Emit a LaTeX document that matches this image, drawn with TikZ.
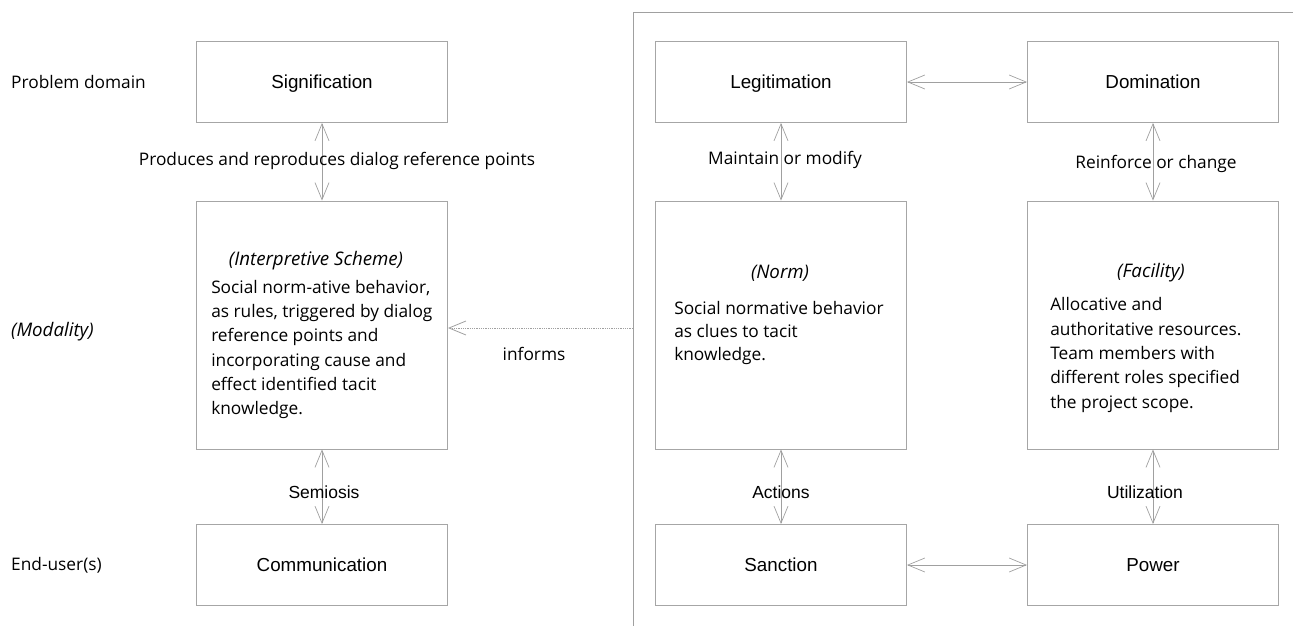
\documentclass[tikz,border=0pt]{standalone}
\usepackage{fontspec}
\setmainfont{Open Sans}
\newfontfamily\arialfont{Liberation Sans}
\usetikzlibrary{arrows.meta, positioning}
\definecolor{BoxGray}{HTML}{A6A6A6}
\definecolor{LineGray}{HTML}{A0A0A0}

\begin{document}
\begin{tikzpicture}[x=1pt, y=-1pt,
    box/.style={draw=BoxGray, line width=0.9pt, minimum width=251pt, minimum height=81pt, inner sep=0pt, text height=13.5pt, text depth=0pt, font=\arialfont\fontsize{18.8}{22}\selectfont},
    tallbox/.style={box, minimum height=248pt},
    link/.style={draw=LineGray, line width=0.7pt, {Straight Barb[length=17pt,width=14pt]}-{Straight Barb[length=17pt,width=14pt]}},
    lbl/.style={font=\fontsize{17.3}{20}\selectfont, inner sep=1pt},
    albl/.style={font=\arialfont\fontsize{17.5}{20}\selectfont, inner sep=1pt},
    side/.style={lbl, anchor=west},
    head/.style={font=\itshape\fontsize{18.7}{22}\selectfont, inner sep=0pt},
    body/.style={font=\fontsize{17.3}{24.3}\selectfont, align=left, anchor=north west, inner sep=0pt}
]
\useasboundingbox (0,0) rectangle (1293,626);

% --- divider ---
\coordinate (divtop) at (633,12);
\coordinate (divbot) at (633,626);
\coordinate (divright) at (1293,12);
\draw[LineGray, line width=0.8pt] (divbot) -- (divtop) -- (divright);

% --- row labels ---
\node[side] (rowtop) at (10,82) {Problem domain};
\node[side, font=\itshape\fontsize{18.7}{22}\selectfont] (rowmid) at (10,332) {(Modality)};
\node[side] (rowbot) at (10,565) {End-user(s)};

% --- left column ---
\node[box] (sig) at (322,82) {Signification};
\node[tallbox] (interp) at (322,325) {};
\node[box] (comm) at (322,565) {Communication};
\node[head] at (316,261) {(Interpretive Scheme)};
\node[body] at ([xshift=15pt, yshift=-79.5pt]interp.north west) {Social norm-ative behavior,\\as rules, triggered by dialog\\reference points and\\incorporating cause and\\effect identified tacit\\knowledge.};

% --- middle column ---
\node[box] (legit) at (781,82) {Legitimation};
\node[tallbox] (norm) at (781,325) {};
\node[box] (sanc) at (781,565) {Sanction};
\node[head] at (780,273) {(Norm)};
\node[body, font=\fontsize{17.3}{23}\selectfont] at ([xshift=19pt, yshift=-100.5pt]norm.north west) {Social normative behavior\\as clues to tacit\\knowledge.};

% --- right column ---
\node[box] (dom) at (1153,82) {Domination};
\node[tallbox] (fac) at (1153,325) {};
\node[box] (pow) at (1153,565) {Power};
\node[head] at (1151,273) {(Facility)};
\node[body] at ([xshift=23pt, yshift=-97pt]fac.north west) {Allocative and\\authoritative resources.\\Team members with\\different roles specified\\the project scope.};

% --- connectors ---
\draw[link] (sig) -- (interp);
\draw[link] (interp) -- (comm);
\draw[link] (legit) -- (norm);
\draw[link] (norm) -- (sanc);
\draw[link] (dom) -- (fac);
\draw[link] (fac) -- (pow);
\draw[link] (legit) -- (dom);
\draw[link] (sanc) -- (pow);
\coordinate (infstart) at (633,328);
\draw[draw=LineGray, line width=0.8pt, densely dotted, -{Straight Barb[length=17pt,width=14pt]}] (infstart) -- (interp.east |- infstart);

% --- connector labels ---
\node[lbl] at (337,161) {Produces and reproduces dialog reference points};
\node[lbl] at (785,160) {Maintain or modify};
\node[lbl] at (1156,164) {Reinforce or change};
\node[albl] at (324,492) {Semiosis};
\node[albl] at (781,492) {Actions};
\node[albl] at (1145,492) {Utilization};
\node[lbl] at (534,354) {informs};
\end{tikzpicture}
\end{document}
